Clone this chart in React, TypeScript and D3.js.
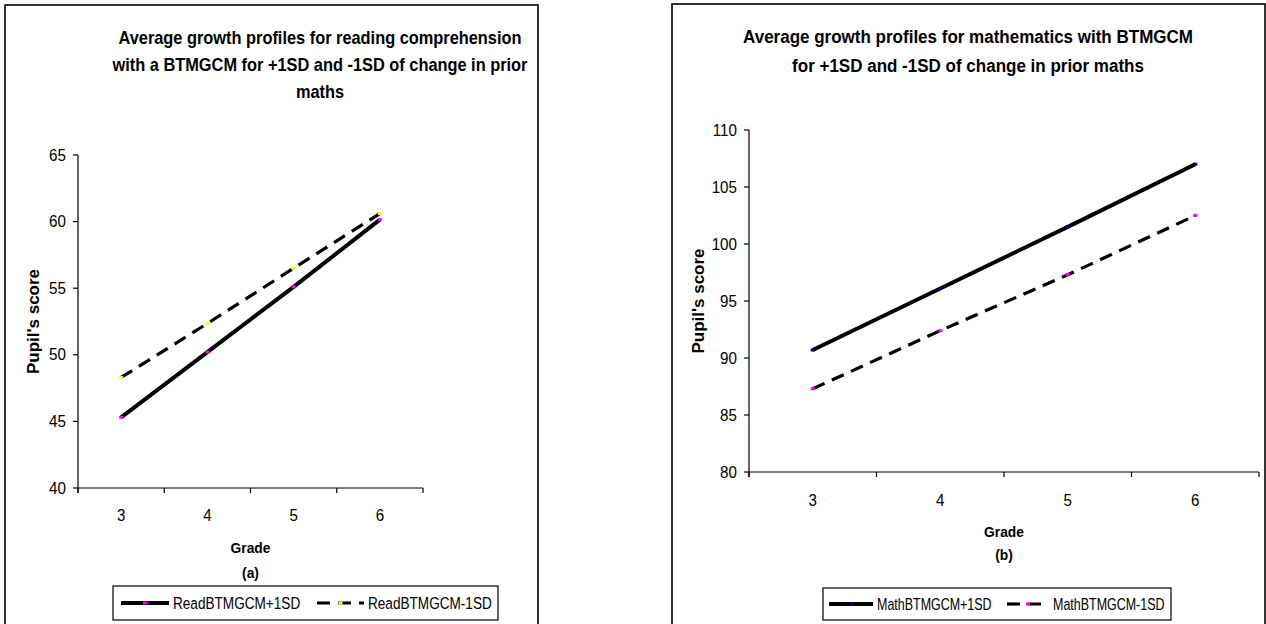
import React from 'react';
import * as d3 from 'd3';

const grades = [3, 4, 5, 6];

const readPlus = [45.3, 50.2, 55.1, 60.15];
const readMinus = [48.3, 52.35, 56.5, 60.6];
const mathPlus = [90.7, 96.1, 101.5, 107.0];
const mathMinus = [87.3, 92.4, 97.3, 102.5];

const readTicks = [40, 45, 50, 55, 60, 65];
const mathTicks = [80, 85, 90, 95, 100, 105, 110];

const FONT = 'Arial, "Liberation Sans", sans-serif';

// text squeezed a bit horizontally, like the original export
function T(props: { x: number; y: number; size: number; sx?: number; bold?: boolean; anchor?: string; children: React.ReactNode }) {
  const sx = props.sx ?? 1;
  return (
    <text transform={`translate(${props.x},${props.y}) scale(${sx},1)`} dy="0.35em"
      textAnchor={props.anchor || 'start'} fontFamily={FONT} fontSize={props.size}
      fontWeight={props.bold ? 'bold' : 'normal'}>{props.children}</text>
  );
}

type Series = { name: string; values: number[]; dashed: boolean; marker: string };

type PanelProps = {
  box: [number, number, number, number];
  title: string[];
  titleX: number;
  titleY: number;
  titleGap: number;
  titleSx: number;
  plot: { left: number; right: number; top: number; bottom: number };
  yDomain: [number, number];
  yTicks: number[];
  yLabelX: number;
  xLabelY: number;
  gradeY: number;
  tagY: number;
  tag: string;
  series: Series[];
  legend: { x: number; y: number; w: number; h: number; items: { lx: number; tx: number }[]; fontSize: number; sx: number };
};

function Panel(p: PanelProps) {
  const { plot } = p;
  const x = d3.scaleBand<number>().domain(grades).range([plot.left, plot.right]).padding(0);
  const y = d3.scaleLinear().domain(p.yDomain).range([plot.bottom, plot.top]);
  const cx = (g: number) => (x(g) as number) + x.bandwidth() / 2;
  const line = d3.line<number>().x((d, i) => cx(grades[i])).y(d => y(d));
  const boundaries = [...grades.map(g => x(g) as number), plot.right];
  const midY = (plot.top + plot.bottom) / 2;
  const plotMid = (plot.left + plot.right) / 2;

  return (
    <g>
      <rect x={p.box[0]} y={p.box[1]} width={p.box[2]} height={p.box[3]} fill="#fff" stroke="#000" strokeWidth={1.6} />
      {p.title.map((t, i) => (
        <T key={i} x={p.titleX} y={p.titleY + i * p.titleGap} size={18} sx={p.titleSx} bold anchor="middle">{t}</T>
      ))}
      {/* y axis */}
      <line x1={plot.left} x2={plot.left} y1={plot.top} y2={plot.bottom + 5} stroke="#000" strokeWidth={1.2} />
      {p.yTicks.map(t => (
        <g key={t}>
          <line x1={plot.left - 5} x2={plot.left} y1={y(t)} y2={y(t)} stroke="#000" strokeWidth={1.2} />
          <T x={plot.left - 12} y={y(t)} size={16} sx={0.95} anchor="end">{t}</T>
        </g>
      ))}
      <text transform={`translate(${p.yLabelX},${midY}) rotate(-90)`} textAnchor="middle" dy="0.35em"
        fontFamily={FONT} fontWeight="bold" fontSize={17}>Pupil's score</text>
      {/* x axis */}
      <line x1={plot.left} x2={plot.right} y1={plot.bottom} y2={plot.bottom} stroke="#000" strokeWidth={1.2} />
      {boundaries.map((b, i) => (
        <line key={i} x1={b} x2={b} y1={plot.bottom} y2={plot.bottom + 5} stroke="#000" strokeWidth={1.2} />
      ))}
      {grades.map(g => (
        <T key={g} x={cx(g)} y={p.xLabelY} size={16} sx={0.95} anchor="middle">{g}</T>
      ))}
      <T x={plotMid} y={p.gradeY} size={15} sx={0.92} bold anchor="middle">Grade</T>
      <T x={plotMid} y={p.tagY} size={15} sx={0.92} bold anchor="middle">{p.tag}</T>
      {/* series */}
      {p.series.map(s => (
        <g key={s.name}>
          <path d={line(s.values) || ''} fill="none" stroke="#000"
            strokeWidth={s.dashed ? 3.2 : 4} strokeDasharray={s.dashed ? '13 8' : undefined} />
          {s.values.map((v, i) => (
            <rect key={i} x={cx(grades[i]) - 2} y={y(v) - 1.5} width={4} height={3} fill={s.marker} />
          ))}
        </g>
      ))}
      {/* legend */}
      <rect x={p.legend.x} y={p.legend.y} width={p.legend.w} height={p.legend.h} fill="#fff" stroke="#000" strokeWidth={1.2} />
      {p.series.map((s, i) => {
        const it = p.legend.items[i];
        const ly = p.legend.y + p.legend.h / 2;
        const lw = it.tx - it.lx - 4;
        return (
          <g key={s.name}>
            <line x1={it.lx} x2={it.lx + lw} y1={ly} y2={ly} stroke="#000"
              strokeWidth={s.dashed ? 3.2 : 4} strokeDasharray={s.dashed ? '13 8' : undefined} />
            <rect x={it.lx + lw / 2 - 2} y={ly - 1.5} width={4} height={3} fill={s.marker} />
            <T x={it.tx} y={ly} size={p.legend.fontSize} sx={p.legend.sx}>{s.name}</T>
          </g>
        );
      })}
    </g>
  );
}

export default function App() {
  return (
    <svg width={1266} height={624} style={{ position: 'absolute', left: 0, top: 0, background: '#fff' }}>
      <Panel
        box={[5, 5, 533, 640]}
        title={['Average growth profiles for reading comprehension', 'with a BTMGCM for +1SD and -1SD of change in prior', 'maths']}
        titleX={320}
        titleY={38}
        titleGap={27}
        titleSx={0.91}
        plot={{ left: 78, right: 423, top: 155, bottom: 488 }}
        yDomain={[40, 65]}
        yTicks={readTicks}
        yLabelX={33}
        xLabelY={515}
        gradeY={548}
        tagY={573}
        tag="(a)"
        series={[
          { name: 'ReadBTMGCM+1SD', values: readPlus, dashed: false, marker: '#ff00ff' },
          { name: 'ReadBTMGCM-1SD', values: readMinus, dashed: true, marker: '#ffff00' },
        ]}
        legend={{ x: 113, y: 586, w: 385, h: 34, items: [{ lx: 121, tx: 173 }, { lx: 317, tx: 368 }], fontSize: 17, sx: 0.8 }}
      />
      <Panel
        box={[672, 4, 593, 640]}
        title={['Average growth profiles for mathematics with BTMGCM', 'for +1SD and -1SD of change in prior maths']}
        titleX={968}
        titleY={37}
        titleGap={29}
        titleSx={0.945}
        plot={{ left: 749, right: 1259, top: 130, bottom: 472 }}
        yDomain={[80, 110]}
        yTicks={mathTicks}
        yLabelX={698}
        xLabelY={500}
        gradeY={532}
        tagY={555}
        tag="(b)"
        series={[
          { name: 'MathBTMGCM+1SD', values: mathPlus, dashed: false, marker: '#000080' },
          { name: 'MathBTMGCM-1SD', values: mathMinus, dashed: true, marker: '#ff00ff' },
        ]}
        legend={{ x: 823, y: 588, w: 348, h: 32, items: [{ lx: 829, tx: 877 }, { lx: 1007, tx: 1053 }], fontSize: 16, sx: 0.78 }}
      />
    </svg>
  );
}
